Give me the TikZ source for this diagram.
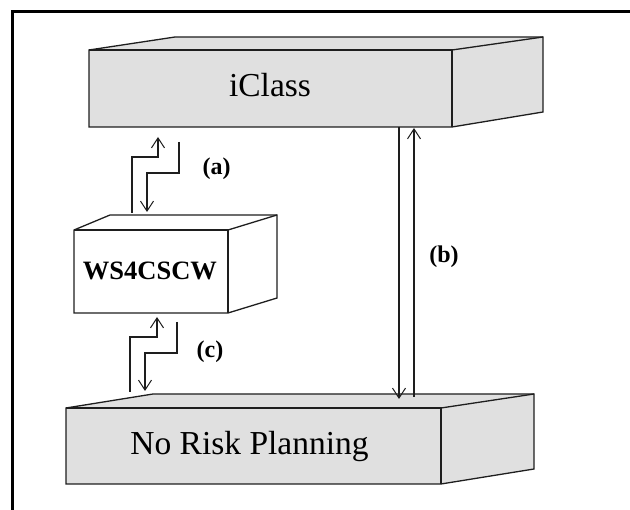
\documentclass[tikz,border=0pt]{standalone}
\usepackage{fontspec}
\setmainfont{Liberation Serif}
\usetikzlibrary{arrows.meta}
\definecolor{boxgray}{RGB}{224,224,224}
\definecolor{inkc}{RGB}{30,30,30}
\tikzset{
  face/.style={draw=inkc,line width=1.3pt,fill=boxgray,line join=miter},
  whiteface/.style={face,fill=white},
  link/.style={draw=inkc,line width=1.3pt},
  flow/.style={link,-{Straight Barb[length=10pt,width=13pt,line width=1pt]}},
  title/.style={font=\fontsize{33.5}{36}\selectfont,text=black,inner sep=0pt,anchor=base},
  titlew/.style={font=\fontsize{26.5}{30}\selectfont\bfseries,text=black,inner sep=0pt,anchor=base},
  tag/.style={font=\fontsize{24}{28}\selectfont\bfseries,text=black,inner sep=0pt}
}
\begin{document}
\begin{tikzpicture}[x=1pt,y=-1pt]
\useasboundingbox (0,0) rectangle (630,510);
% outer frame: open on the right and at the bottom
\draw[line width=3pt,black] (12.5,510) -- (12.5,11.5) -- (630,11.5);
% iClass
\draw[face] (89,50) -- (175,37) -- (543,37) -- (543,112) -- (452,127) -- (89,127) -- cycle;
\draw[face,fill=none] (89,50) -- (452,50) -- (452,127);
\draw[face,fill=none] (452,50) -- (543,37);
% WS4CSCW
\draw[whiteface] (74,230) -- (110,215) -- (277,215) -- (277,298) -- (228,313) -- (74,313) -- cycle;
\draw[whiteface,fill=none] (74,230) -- (228,230) -- (228,313);
\draw[whiteface,fill=none] (228,230) -- (277,215);
% No Risk
\draw[face] (66,408) -- (153,394) -- (534,394) -- (534,469) -- (441,484) -- (66,484) -- cycle;
\draw[face,fill=none] (66,408) -- (441,408) -- (441,484);
\draw[face,fill=none] (441,408) -- (534,394);
% labels
\node[title] (iclass) at (270,97) {iClass};
\node[titlew] (ws) at (150,280) {WS4CSCW};
\node[title] (risk) at (249.5,455) {No Risk Planning};
\node[tag] (a) at (216.5,169) {(a)};
\node[tag] (b) at (444,257) {(b)};
\node[tag] (c) at (210,352) {(c)};
% anchors
\coordinate (au0) at (132,213); \coordinate (au1) at (158,137);
\coordinate (ad0) at (179,142); \coordinate (ad1) at (147,212);
\coordinate (cu0) at (130,392); \coordinate (cu1) at (157,317);
\coordinate (cd0) at (177,322); \coordinate (cd1) at (145,391);
\coordinate (bu0) at (414,397); \coordinate (bu1) at (414,128);
\coordinate (bd0) at (399,127); \coordinate (bd1) at (399,399);
\draw[flow] (au0) -- (132,157) -- (158,157) -- (au1);
\draw[flow] (ad0) -- (179,173) -- (147,173) -- (ad1);
\draw[flow] (cu0) -- (130,337) -- (157,337) -- (cu1);
\draw[flow] (cd0) -- (177,353) -- (145,353) -- (cd1);
\draw[flow] (bu0) -- (bu1);
\draw[flow] (bd0) -- (bd1);
\end{tikzpicture}
\end{document}
